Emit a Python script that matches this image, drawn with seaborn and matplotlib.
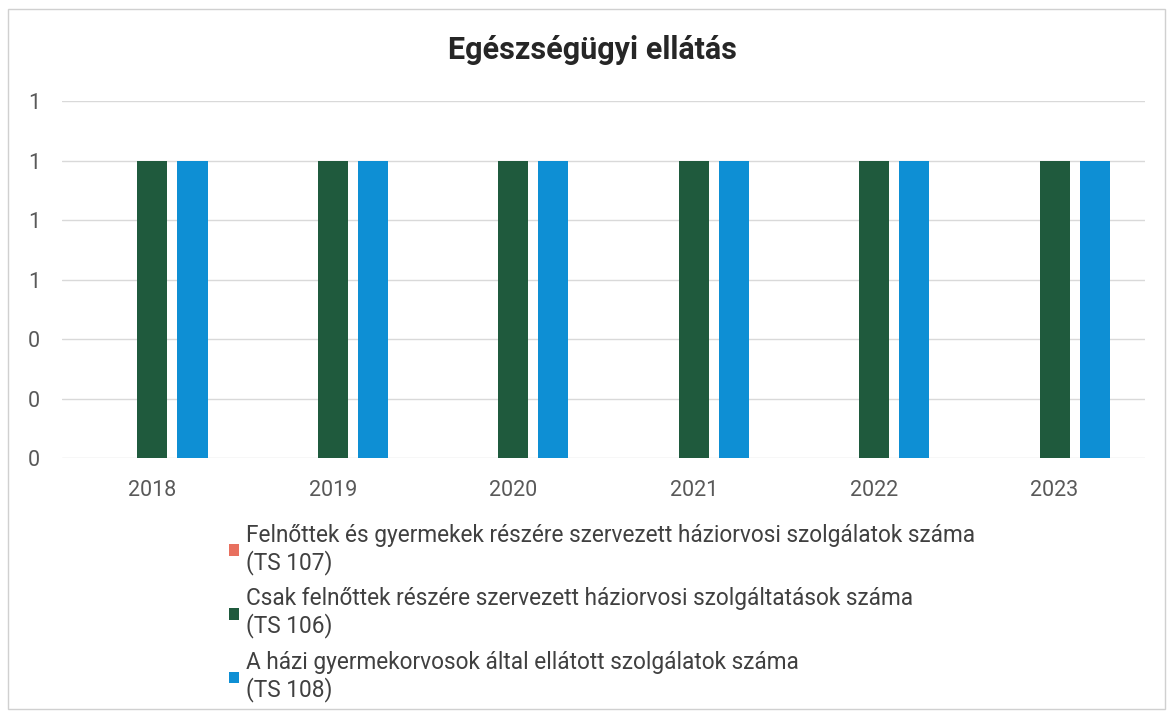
import pandas as pd
import matplotlib.pyplot as plt
import matplotlib.patches as mpatches
import seaborn as sns

# Data
years = ['2018', '2019', '2020', '2021', '2022', '2023']
series = [
    'Felnőttek és gyermekek részére szervezett háziorvosi szolgálatok száma\n(TS 107)',
    'Csak felnőttek részére szervezett háziorvosi szolgáltatások száma\n(TS 106)',
    'A házi gyermekorvosok által ellátott szolgálatok száma\n(TS 108)',
]
ts107 = [0, 0, 0, 0, 0, 0]
ts106 = [1, 1, 1, 1, 1, 1]
ts108 = [1, 1, 1, 1, 1, 1]
colors = ['#e8705f', '#1f5a3d', '#0e8fd4']
yticks = [0, 0.2, 0.4, 0.6, 0.8, 1.0, 1.2]

# Long table for seaborn
df = pd.DataFrame({
    'year': years * 3,
    'series': [series[0]] * 6 + [series[1]] * 6 + [series[2]] * 6,
    'value': ts107 + ts106 + ts108,
})

sns.set_theme(style='white')
plt.rcParams['font.family'] = ['Roboto', 'DejaVu Sans']

fig = plt.figure(figsize=(11.73, 7.16), dpi=100)
ax = fig.add_axes([0.053, 0.36, 0.923, 0.499])

sns.barplot(data=df, x='year', y='value', hue='series', order=years,
            hue_order=series, palette=colors, width=0.667, gap=0.25,
            saturation=1, linewidth=0, ax=ax)

# Legend below the chart
handles, labels = ax.get_legend_handles_labels()
ax.get_legend().remove()
leg = fig.legend(handles, labels, loc='upper left', bbox_to_anchor=(0.186, 0.284),
                 frameon=False, fontsize=16.3, labelcolor='#404040', borderpad=0,
                 handlelength=0.42, handleheight=0.42, handletextpad=0.3,
                 labelspacing=0.56)
for t in leg.get_texts():
    t.set_linespacing(1.15)

# Axes styling
ax.set_ylim(0, 1.2)
ax.set_xlim(-0.5, 5.5)
ax.set_yticks(yticks)
ax.set_yticklabels(['{:.0f}'.format(v) for v in yticks])
ax.yaxis.grid(True, color='#d9d9d9', linewidth=1)
ax.set_axisbelow(True)
for s in ax.spines.values():
    s.set_visible(False)
ax.tick_params(axis='both', length=0, labelsize=15.5, labelcolor='#595959')
ax.tick_params(axis='y', pad=16)
ax.tick_params(axis='x', pad=16)
ax.set_xlabel('')
ax.set_ylabel('')

fig.text(0.505, 0.93, 'Egészségügyi ellátás', ha='center', va='center',
         fontsize=22, fontweight='bold', color='#262626')

# Chart frame
fig.patches.append(mpatches.Rectangle((0.007, 0.01), 0.986, 0.978,
                                      transform=fig.transFigure, fill=False,
                                      edgecolor='#d0d0d0', linewidth=1))

fig.savefig('out.png', dpi=100)
